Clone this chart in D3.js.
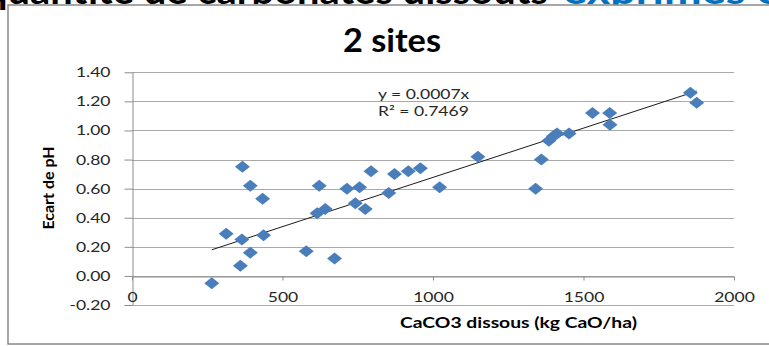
<!DOCTYPE html>
<html>
<head>
<meta charset="utf-8">
<script src="https://cdn.jsdelivr.net/npm/d3@7"></script>
<style>
  body { margin: 0; background: #fff; }
  svg { display: block; }
  text { font-family: Lato, "Open Sans", sans-serif; }
  .grid line { stroke: #a9a9a9; stroke-width: 1; }
  .axis path, .axis line { stroke: #8c8c8c; }
  .axis text { font-size: 14px; fill: #262626; }
</style>
</head>
<body>
<div id="d3"></div>
<script>
// CaCO3 dissous (kg CaO/ha) and Ecart de pH
var caco3 = [265, 313, 367, 365, 360, 393, 393, 434, 437, 579, 615, 622, 642, 673,
             714, 756, 742, 775, 794, 853, 872, 918, 958, 1022, 1149, 1341, 1360,
             1385, 1400, 1412, 1452, 1530, 1587, 1588, 1855, 1876];
var ecartPh = [-0.05, 0.29, 0.75, 0.25, 0.07, 0.62, 0.16, 0.53, 0.28, 0.17, 0.43, 0.62, 0.46, 0.12,
               0.60, 0.61, 0.50, 0.46, 0.72, 0.57, 0.70, 0.72, 0.74, 0.61, 0.82, 0.60, 0.80,
               0.93, 0.96, 0.98, 0.98, 1.12, 1.12, 1.04, 1.26, 1.19];

var xTicks = [0, 500, 1000, 1500, 2000];
var yTicks = [-0.2, 0, 0.2, 0.4, 0.6, 0.8, 1.0, 1.2, 1.4];

var titleText = "2 sites",
    xTitle = "CaCO3 dissous (kg CaO/ha)",
    yTitle = "Ecart de pH",
    eqText = "y = 0.0007x",
    r2Text = "R² = 0.7469";

var width = 769,
    height = 346,
    stretch = 1.25; // the picture is a little wider than its fonts

var x = d3.scaleLinear().domain([0, 2000]).range([132, 734]);
var y = d3.scaleLinear().domain([-0.2, 1.4]).range([305, 72.3]);

var svg = d3.select("#d3").append("svg")
    .attr("width", width)
    .attr("height", height);

function widen(sel) {
  sel.each(function() {
    d3.select(this).attr("textLength", this.getComputedTextLength() * stretch)
        .attr("lengthAdjust", "spacingAndGlyphs");
  });
}

// slide heading, mostly hidden behind the chart
var head = svg.append("text")
    .attr("y", 4)
    .attr("font-size", 36)
    .attr("font-weight", "bold");
head.append("tspan")
    .attr("x", -15)
    .attr("textLength", 563)
    .attr("lengthAdjust", "spacingAndGlyphs")
    .attr("fill", "#000")
    .text("quantité de carbonates dissouts");
head.append("tspan")
    .attr("x", 563)
    .attr("fill", "#0070c0")
    .text("exprimés en CaO");
widen(head.select("tspan:last-child"));

// chart frame
svg.append("rect")
    .attr("x", 8)
    .attr("y", 5)
    .attr("width", 780)
    .attr("height", 339)
    .attr("fill", "#fff")
    .attr("stroke", "#8a8a8a")
    .attr("stroke-width", 1.5);

// horizontal grid
svg.append("g")
    .attr("class", "grid")
  .selectAll("line")
    .data(yTicks)
  .enter().append("line")
    .attr("x1", x(0))
    .attr("x2", x(2000))
    .attr("y1", function(d) { return Math.round(y(d)) + 0.5; })
    .attr("y2", function(d) { return Math.round(y(d)) + 0.5; });

var yAxis = d3.axisLeft(y)
    .tickValues(yTicks)
    .tickSize(8)
    .tickSizeOuter(0)
    .tickPadding(14)
    .tickFormat(function(d) { return d.toFixed(2); });

var xAxis = d3.axisBottom(x)
    .tickValues(xTicks)
    .tickSize(4)
    .tickSizeOuter(0)
    .tickPadding(12)
    .tickFormat(d3.format("d"));

svg.append("g")
    .attr("class", "y axis")
    .attr("transform", "translate(" + (x(0) + 0.5) + ",0)")
    .call(yAxis);

svg.append("g")
    .attr("class", "x axis")
    .attr("transform", "translate(0," + (Math.round(y(0)) + 0.5) + ")")
    .call(xAxis);

widen(svg.selectAll(".axis text"));

// linear trend through the origin
var slope = d3.sum(caco3, function(d, i) { return d * ecartPh[i]; }) /
            d3.sum(caco3, function(d) { return d * d; });
var xExt = d3.extent(caco3);

svg.append("line")
    .attr("x1", x(xExt[0]))
    .attr("y1", y(slope * xExt[0]))
    .attr("x2", x(xExt[1]))
    .attr("y2", y(slope * xExt[1]))
    .attr("stroke", "#1a1a1a")
    .attr("stroke-width", 1);

// diamonds
svg.append("g").selectAll("path")
    .data(caco3)
  .enter().append("path")
    .attr("transform", function(d, i) { return "translate(" + x(d) + "," + y(ecartPh[i]) + ")"; })
    .attr("d", "M0,-6L7.5,0L0,6L-7.5,0Z")
    .attr("fill", "#4a7ebb");

// equation
var eq = svg.append("g").attr("font-size", 14).attr("fill", "#262626");
eq.append("text").attr("x", 378).attr("y", 99).text(eqText);
eq.append("text").attr("x", 378).attr("y", 115.5).text(r2Text);
widen(eq.selectAll("text"));

// titles
svg.append("text")
    .attr("x", 392)
    .attr("y", 52)
    .attr("text-anchor", "middle")
    .attr("font-size", 32)
    .attr("font-weight", "bold")
    .attr("textLength", 98)
    .attr("lengthAdjust", "spacingAndGlyphs")
    .text(titleText);

svg.append("text")
    .attr("x", 400)
    .attr("y", 328)
    .attr("font-size", 15)
    .attr("font-weight", "bold")
    .attr("textLength", 237)
    .attr("lengthAdjust", "spacingAndGlyphs")
    .text(xTitle);

svg.append("text")
    .attr("transform", "translate(54,188) rotate(-90)")
    .attr("text-anchor", "middle")
    .attr("font-size", 16)
    .attr("font-weight", "bold")
    .text(yTitle);
</script>
</body>
</html>
